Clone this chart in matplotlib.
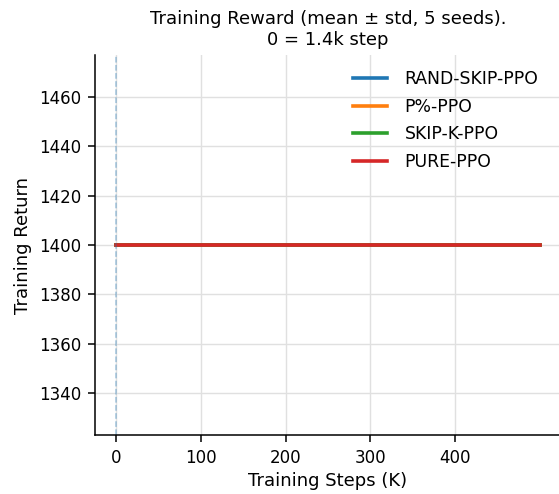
import matplotlib
matplotlib.use("Agg")
import matplotlib.pyplot as plt

steps_k = [0, 100, 200, 300, 400, 500]
rand_skip_ppo = [1400, 1400, 1400, 1400, 1400, 1400]
p_pct_ppo = [1400, 1400, 1400, 1400, 1400, 1400]
skip_k_ppo = [1400, 1400, 1400, 1400, 1400, 1400]
pure_ppo = [1400, 1400, 1400, 1400, 1400, 1400]

series = [
    ("RAND-SKIP-PPO", rand_skip_ppo, "#1f77b4"),
    ("P%-PPO", p_pct_ppo, "#ff7f0e"),
    ("SKIP-K-PPO", skip_k_ppo, "#2ca02c"),
    ("PURE-PPO", pure_ppo, "#d62728"),
]

fig = plt.figure(figsize=(5.59, 4.94), dpi=100)
ax = fig.add_axes([95/559, 1 - 435/494, (561-95)/559, (435-55)/494])

for name, vals, c in series:
    ax.plot(steps_k, vals, color=c, lw=2.6, label=name)

ax.axvline(0, color="#1f77b4", alpha=0.4, lw=1.1, ls="--")
ax.grid(True, color="#e0e0e0", lw=1.0)
ax.set_axisbelow(True)
for s in ["top", "right"]:
    ax.spines[s].set_visible(False)
for s in ["left", "bottom"]:
    ax.spines[s].set_linewidth(1.1)

ax.set_xticks([0, 100, 200, 300, 400])
ax.set_yticks([1340, 1360, 1380, 1400, 1420, 1440, 1460])
ax.tick_params(labelsize=12, length=5, width=1.1, pad=5)
ax.set_xlabel("Training Steps (K)", fontsize=13, labelpad=4)
ax.set_ylabel("Training Return", fontsize=13, labelpad=5)
ax.set_title("Training Reward (mean ± std, 5 seeds).\n0 = 1.4k step", fontsize=13, pad=7)
ax.legend(frameon=False, fontsize=12.4, loc="upper right", bbox_to_anchor=(0.985, 1.0),
          handletextpad=1.0, labelspacing=0.55)

fig.savefig("out.png", dpi=100)
